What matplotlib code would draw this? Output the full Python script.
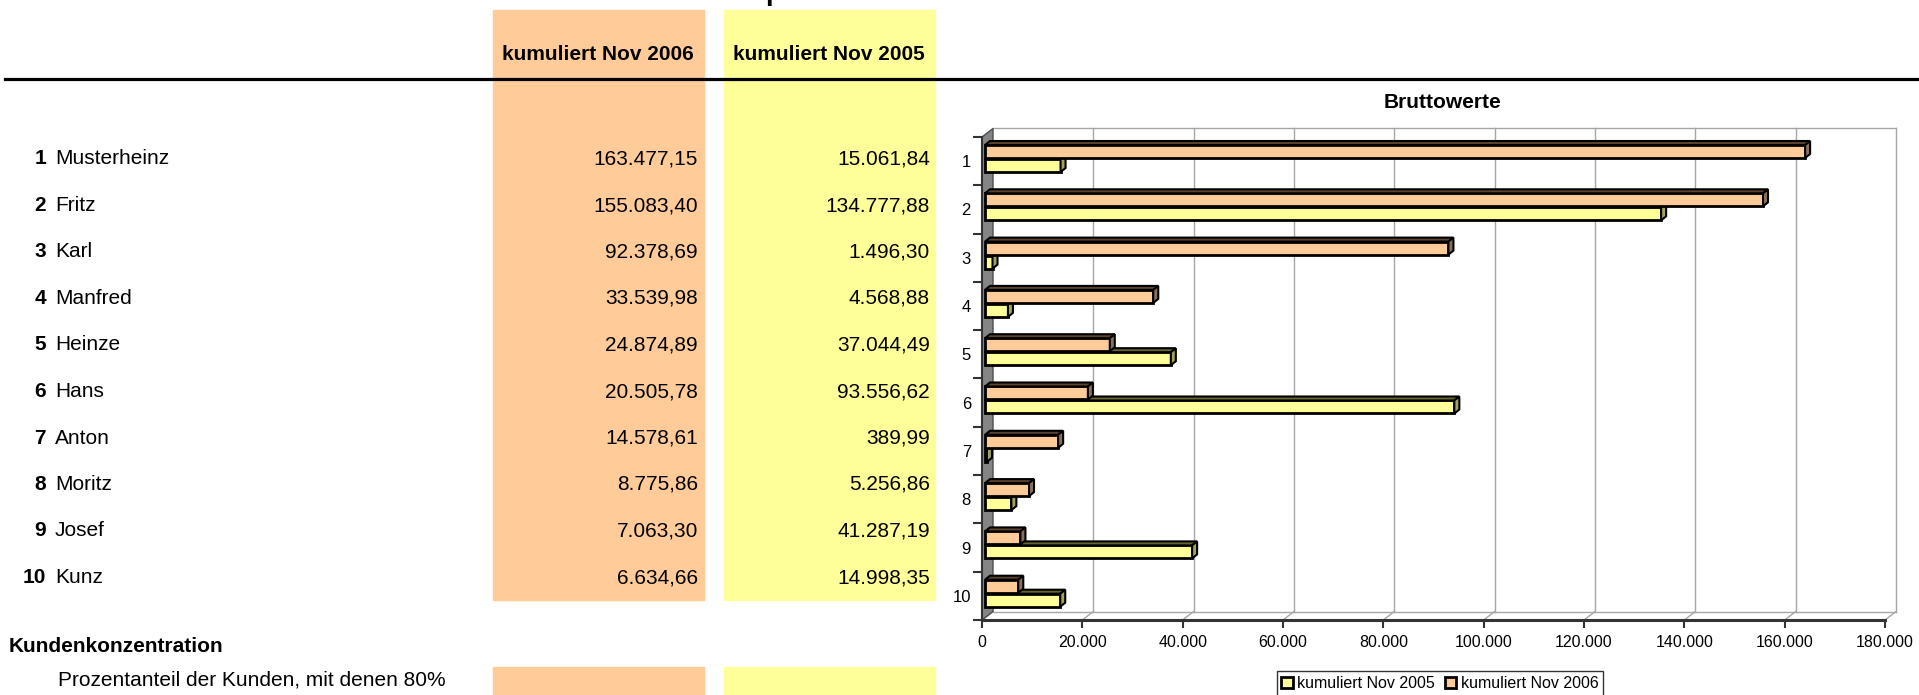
import numpy as np
import matplotlib.pyplot as plt
from matplotlib.patches import Rectangle, Polygon
from matplotlib.ticker import FuncFormatter

plt.rcParams['font.family'] = ['Liberation Sans', 'DejaVu Sans']

# ---- data ----
ranks = list(range(1, 11))
names = ["Musterheinz", "Fritz", "Karl", "Manfred", "Heinze",
         "Hans", "Anton", "Moritz", "Josef", "Kunz"]
nov_2006 = [163477.15, 155083.40, 92378.69, 33539.98, 24874.89,
            20505.78, 14578.61, 8775.86, 7063.30, 6634.66]
nov_2005 = [15061.84, 134777.88, 1496.30, 4568.88, 37044.49,
            93556.62, 389.99, 5256.86, 41287.19, 14998.35]
col_headers = ["kumuliert Nov 2006", "kumuliert Nov 2005"]
legend_labels = ["kumuliert Nov 2005", "kumuliert Nov 2006"]
x_ticks = np.arange(0, 180001, 20000)

ORANGE = "#FFCC99"
YELLOW = "#FFFF99"

W, H = 1919, 695


def fx(x):
    return x / W


def fy(y):
    return 1 - y / H


def de(v, dec=2):
    s = f"{v:,.{dec}f}"
    return s.replace(",", "X").replace(".", ",").replace("X", ".")


fig = plt.figure(figsize=(W / 100, H / 100), dpi=100)

# ---- table part ----
fig.add_artist(Rectangle((fx(493), fy(600)), (704 - 493) / W, 590 / H,
                         transform=fig.transFigure, color=ORANGE, zorder=0))
fig.add_artist(Rectangle((fx(724), fy(600)), (935 - 724) / W, 590 / H,
                         transform=fig.transFigure, color=YELLOW, zorder=0))
fig.add_artist(Rectangle((fx(493), fy(700)), (704 - 493) / W, 33 / H,
                         transform=fig.transFigure, color=ORANGE, zorder=0))
fig.add_artist(Rectangle((fx(724), fy(700)), (935 - 724) / W, 33 / H,
                         transform=fig.transFigure, color=YELLOW, zorder=0))

fig.add_artist(plt.Line2D([fx(5), 1], [fy(79), fy(79)], transform=fig.transFigure,
                          color="black", lw=2.3, zorder=2))

# cut-off page title (only a descender shows)
fig.text(fx(765), 1.0, "p", fontsize=20, weight="bold", va="baseline", ha="left")

fig.text(fx(598), fy(60), col_headers[0], fontsize=15, weight="bold", ha="center", va="baseline")
fig.text(fx(829), fy(60), col_headers[1], fontsize=15, weight="bold", ha="center", va="baseline")

for i, (r, n, a, b) in enumerate(zip(ranks, names, nov_2006, nov_2005)):
    yb = fy(157 + 46.5 * i + 7.5)
    fig.text(fx(46), yb, str(r), fontsize=15, weight="bold", ha="right", va="baseline")
    fig.text(fx(55), yb, n, fontsize=15, ha="left", va="baseline")
    fig.text(fx(698), yb, de(a), fontsize=15, ha="right", va="baseline")
    fig.text(fx(930), yb, de(b), fontsize=15, ha="right", va="baseline")

fig.text(fx(9), fy(652), "Kundenkonzentration", fontsize=15, weight="bold", va="baseline")
fig.text(fx(58), fy(685), "Prozentanteil der Kunden, mit denen 80%", fontsize=15, va="baseline")

# ---- chart ----
fig.text(fx(1442), fy(108), "Bruttowerte", fontsize=15, weight="bold", ha="center", va="baseline")

ax = fig.add_axes([fx(982), fy(620), (1885 - 982) / W, (620 - 137) / H])
ax.set_xlim(0, 180000)
ax.set_ylim(10.5, 0.5)
ax.patch.set_alpha(0)

px_x = 180000 / 903
px_y = 10 / 483
wall_dx, wall_dy = 11 * px_x, 8.5 * px_y
bar_dx, bar_dy = 5 * px_x, 4 * px_y
shift = 3 * px_x
grid = "#a6a6a6"

# back wall grid and floor
for k in x_ticks:
    if k > 0:
        ax.plot([k + wall_dx] * 2, [0.5 - wall_dy, 10.5 - wall_dy], color=grid, lw=1, zorder=0, clip_on=False)
    ax.plot([k, k + wall_dx], [10.5, 10.5 - wall_dy], color=grid, lw=1, zorder=0, clip_on=False)
ax.plot([wall_dx, x_ticks[-1] + wall_dx], [0.5 - wall_dy] * 2, color=grid, lw=1, zorder=0, clip_on=False)
ax.plot([wall_dx, x_ticks[-1] + wall_dx], [10.5 - wall_dy] * 2, color=grid, lw=1, zorder=0, clip_on=False)

# side wall
ax.add_patch(Polygon([(0, 0.5), (wall_dx, 0.5 - wall_dy), (wall_dx, 10.5 - wall_dy), (0, 10.5)],
                     closed=True, fc="#858585", ec="#4d4d4d", lw=1, zorder=1, clip_on=False))

idx = np.arange(1, 11)
h = 13 * px_y
y_or = idx - 0.5 + 14.5 * px_y
y_ye = idx - 0.5 + 28.5 * px_y


def bar3d(vals, ys, front, top_c, side_c, z, label):
    bars = ax.barh(ys, vals, height=h, left=shift, color=front, edgecolor="black",
                   lw=2, zorder=z, label=label)
    for v, y in zip(vals, ys):
        l, r = shift, shift + v
        t, b = y - h / 2, y + h / 2
        ax.add_patch(Polygon([(l, t), (r, t), (r + bar_dx, t - bar_dy), (l + bar_dx, t - bar_dy)],
                             closed=True, fc=top_c, ec="black", lw=1.5, zorder=z))
        ax.add_patch(Polygon([(r, t), (r, b), (r + bar_dx, b - bar_dy), (r + bar_dx, t - bar_dy)],
                             closed=True, fc=side_c, ec="black", lw=1.5, zorder=z))
    return bars


bars_ye = bar3d(nov_2005, y_ye, YELLOW, "#66662e", "#a3a35a", 3, legend_labels[0])
bars_or = bar3d(nov_2006, y_or, ORANGE, "#5c4330", "#8c7058", 4, legend_labels[1])

for s in ["top", "right"]:
    ax.spines[s].set_visible(False)
ax.spines["left"].set_color("#333333")
ax.spines["left"].set_linewidth(1.5)
ax.spines["bottom"].set_color("#333333")
ax.spines["bottom"].set_linewidth(2.2)

ax.set_xticks(x_ticks)
ax.xaxis.set_major_formatter(FuncFormatter(lambda v, p: de(v, 0)))
ax.tick_params(axis="x", length=6, width=1.5, color="#333333", pad=5, labelsize=11.5)
ax.set_yticks(idx)
ax.set_yticklabels([str(i) for i in idx])
ax.tick_params(axis="y", which="major", length=0, pad=8, labelsize=12)
ax.set_yticks(np.arange(0.5, 10.6, 1), minor=True)
ax.tick_params(axis="y", which="minor", length=6.5, width=1.5, color="#333333")

leg = fig.legend([bars_ye, bars_or], legend_labels, loc="upper center",
                 bbox_to_anchor=(fx(1440), fy(671)), ncol=2, frameon=True, fancybox=False,
                 edgecolor="black", fontsize=11.5, handlelength=0.7, handleheight=0.7,
                 handletextpad=0.3, columnspacing=0.6, borderpad=0.3, borderaxespad=0)
leg.get_frame().set_linewidth(1)

fig.savefig("out.png", dpi=100)
